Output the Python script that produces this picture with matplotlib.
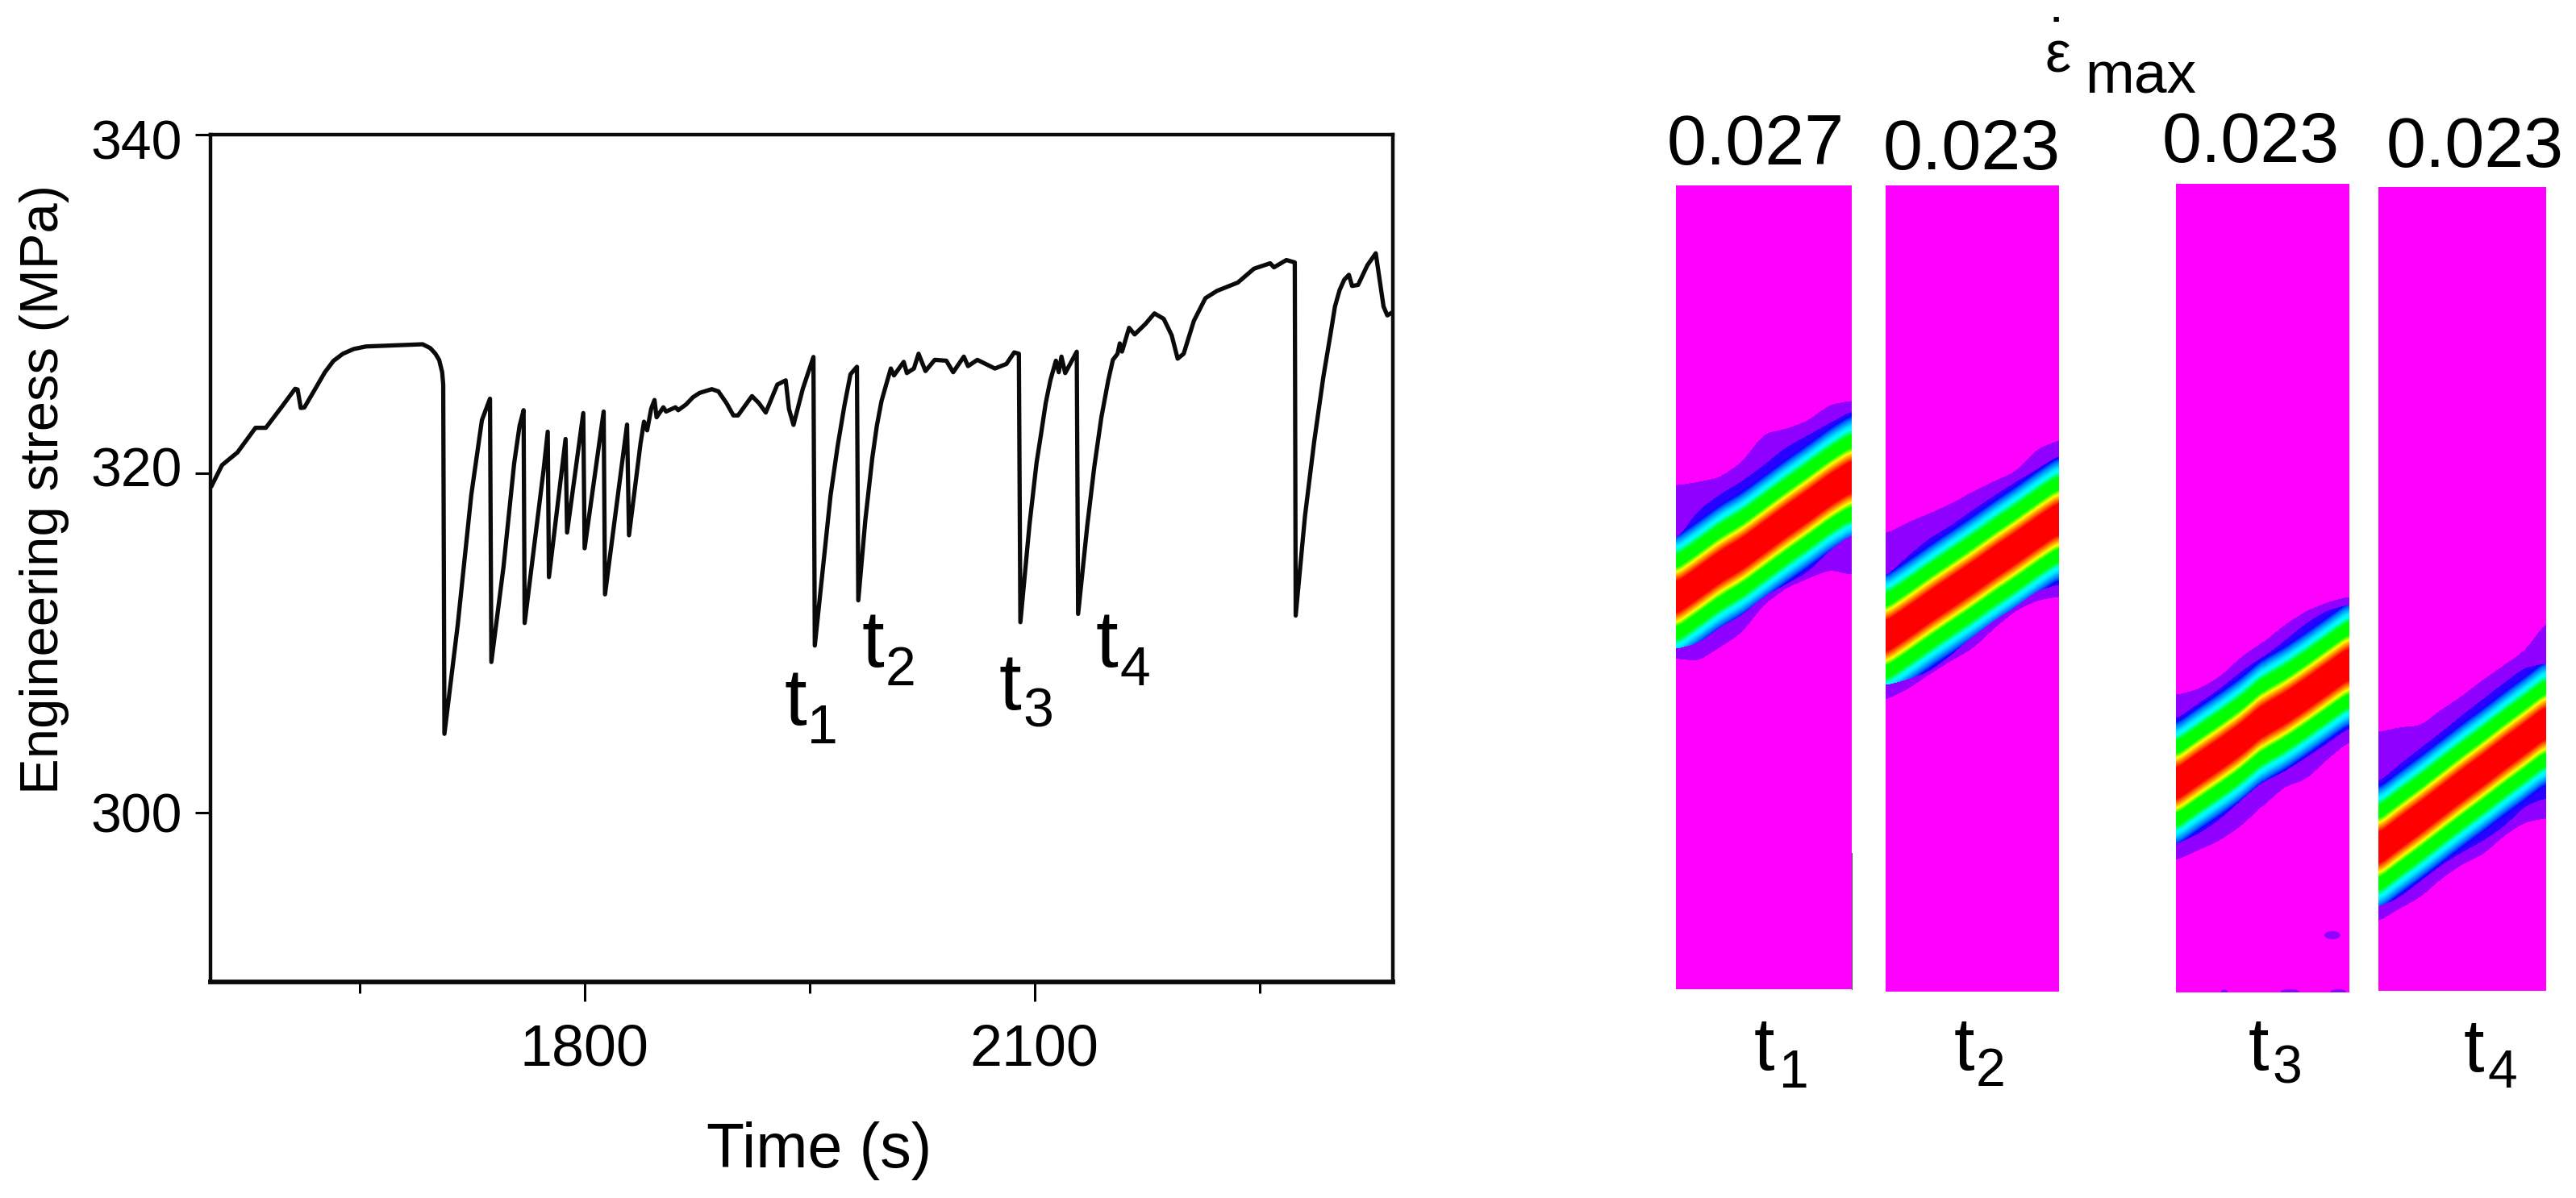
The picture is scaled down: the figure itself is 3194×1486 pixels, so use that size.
import numpy as np
import matplotlib
matplotlib.use("Agg")
import matplotlib.pyplot as plt
from matplotlib.colors import LinearSegmentedColormap
from matplotlib.patches import Ellipse
from matplotlib.transforms import ScaledTranslation

W, H, DPI = 3194, 1486, 100
plt.rcParams['font.family'] = ['Liberation Sans', 'DejaVu Sans']

# ---------- stress curve ----------
time_s = [1551.4,1558.2,1568.5,1580.5,1587.4,1597.7,1606.9,1608.6,1610.7,1613.1,1626.8,1632.5,1638.8,1646.0,1654.3,1671.4,1692.0,1697.1,1700.5,1703.0,1705.0,1705.7,
          1706.5,1715.4,1724.4,1731.5,1736.9,1737.8,1745.9,1753.0,1756.6,1759.3,1760.0,1772.7,1775.4,1776.2,1787.3,1788.3,1799.1,1800.0,
          1812.7,1813.6,1828.3,1829.6,1837.3,1839.6,1841.7,1844.4,1846.6,1848.0,1852.5,1854.3,1860.6,1862.4,1867.7,1872.2,1876.7,1884.8,1889.2,1894.6,
          1899.2,1902.3,1911.6,1916.2,1920.8,1928.5,1934.1,1936.3,1939.3,1945.5,1952.6,1953.5,1959.4,1964.0,1968.7,1973.3,1977.3,1981.6,1982.5,1987.2,1991.8,1994.9,1998.0,2001.1,2004.2,2006.3,
          2012.8,2014.9,2019.6,2022.7,2027.3,2033.5,2041.2,2045.8,2052.9,2055.7,2061.9,2073.6,2081.3,2086.5,2089.6,2090.6,2096.7,2101.4,2104.4,2107.5,2110.6,2114.3,2116.2,
          2118.0,2120.5,2128.2,2129.1,2135.3,2139.9,2144.6,2149.2,2152.3,2155.4,2156.9,2158.4,2163.1,2166.8,2173.9,2180.0,2186.2,2191.5,2195.5,2199.5,2206.3,2214.0,2221.7,
          2235.6,2246.4,2257.2,2259.7,2268.0,2273.6,2274.2,2280.4,2286.5,2292.7,2297.3,2300.4,2303.5,2306.6,2309.7,2311.8,2315.8,2322.0,2327.6,2332.8,2335.3,2338.4]
stress_mpa = [319.3,320.5,321.25,322.7,322.7,323.9,325.0,324.96,323.87,323.9,325.98,326.65,327.07,327.35,327.5,327.56,327.63,327.4,327.07,326.7,325.98,325.25,
              304.64,311.09,318.73,323.15,324.42,308.88,314.49,320.6,322.81,323.74,311.18,320.26,322.47,313.89,322.04,316.52,323.57,315.59,
              323.66,312.87,322.89,316.36,321.79,323.06,322.55,323.83,324.34,323.32,323.91,323.66,323.91,323.74,324.08,324.5,324.76,324.98,324.85,324.16,
              323.43,323.43,324.57,324.16,323.6,325.25,325.5,323.8,322.87,325.0,326.88,309.85,314.82,318.7,321.6,324.04,325.86,326.3,312.52,317.25,320.89,322.83,324.28,325.25,326.2,325.79,
              326.59,325.93,326.2,327.07,326.05,326.71,326.66,325.98,326.9,326.34,326.71,326.2,326.47,327.15,327.07,311.23,317.0,320.64,322.34,324.16,325.5,326.66,325.98,
              326.9,325.93,327.19,311.72,317.0,320.4,323.31,325.5,326.71,327.07,327.68,327.2,328.6,328.21,328.82,329.45,329.13,328.16,326.78,327.07,329.01,330.35,330.78,
              331.27,332.09,332.41,332.17,332.6,332.46,311.62,317.49,321.86,325.73,328.16,329.86,330.83,331.44,331.73,331.07,331.13,332.29,333.0,329.86,329.33,329.5]
x_major = [1800, 2100]
x_minor = [1650, 1950, 2250]
y_ticks = [300, 320, 340]
y_label_shift_px = [0, 9, -6]

# ---------- strain-rate bands: depth below panel top at 9 stations across each panel ----------
max_rates = ['0.027', '0.023', '0.023', '0.023']
p1_center = [512,493,473,457,437,417,398,378,361]
p1_blue_top = [440,403,383,367,347,325,310,295,280]
p1_blue_bot = [575,568,548,533,510,495,480,453,433]
p1_out_top = [372,368,362,343,308,302,292,272,267]
p1_out_bot = [587,590,573,555,520,500,488,477,483]
p2_center = [560,542,523,505,487,468,450,431,413]
p2_blue_top = [485,460,438,422,403,385,368,352,335]
p2_blue_bot = [620,613,603,583,560,540,523,503,495]
p2_out_top = [432,418,407,395,380,367,355,327,316]
p2_out_bot = [638,625,607,590,575,550,528,515,510]
p3_center = [745,726,708,689,666,651,633,614,595]
p3_blue_top = [664,645,627,605,587,567,545,529,522]
p3_blue_bot = [819,807,789,765,742,729,712,694,675]
p3_out_top = [634,627,612,587,569,547,530,519,512]
p3_out_bot = [839,827,815,797,772,748,739,714,692]
p4_center = [821,801,782,762,742,723,703,684,664]
p4_blue_top = [738,716,696,676,655,635,615,596,591]
p4_blue_bot = [893,881,861,841,825,811,793,768,758]
p4_out_top = [676,670,668,648,631,611,593,575,540]
p4_out_bot = [911,895,881,858,840,828,805,788,783]
p3_blob_x = [0.906, 0.28, 0.66, 0.94]
p3_blob_y = [932, 1002, 1002, 1002]
p3_blob_w = [0.093, 0.04, 0.11, 0.09]
p3_blob_h = [10, 5, 6, 6]

panels = [
    (2078, 2296, 230, 1227, p1_center, p1_blue_top, p1_blue_bot, p1_out_top, p1_out_bot),
    (2338, 2553, 230, 1230, p2_center, p2_blue_top, p2_blue_bot, p2_out_top, p2_out_bot),
    (2698, 2912, 228, 1231, p3_center, p3_blue_top, p3_blue_bot, p3_out_top, p3_out_bot),
    (2949, 3157, 232, 1229, p4_center, p4_blue_top, p4_blue_bot, p4_out_top, p4_out_bot),
]

fig = plt.figure(figsize=(W / DPI, H / DPI), dpi=DPI, facecolor='white')

def px_font(px):
    return px * 72.0 / DPI

def ptext(x, y, s, size, ha='left', va='baseline', **kw):
    return fig.text(x / W, 1 - y / H, s, fontsize=px_font(size), ha=ha, va=va, color='black', **kw)

# ---------- left chart ----------
L, R, T, B = 261, 1727, 167, 1218
ax = fig.add_axes([L / W, 1 - B / H, (R - L) / W, (B - T) / H])
ax.plot(time_s, stress_mpa, color='#0a0a0a', lw=3.8, solid_joinstyle='round')
ax.set_xlim(1550.5, 2339.0)
ax.set_ylim(290, 340)
ax.set_xticks(x_major)
ax.set_xticks(x_minor, minor=True)
ax.set_yticks(y_ticks)
ax.tick_params(axis='x', which='major', length=px_font(24), width=2.2, pad=px_font(28), labelsize=px_font(72))
ax.tick_params(axis='x', which='minor', length=px_font(14), width=2.2)
ax.tick_params(axis='y', which='major', length=px_font(19), width=2.2, pad=px_font(16), labelsize=px_font(68))
for s in ax.spines.values():
    s.set_linewidth(3.2)
    s.set_color('#0a0a0a')
ax.spines['bottom'].set_linewidth(4.2)
for lab, dy in zip(ax.get_yticklabels(), y_label_shift_px):
    lab.set_transform(lab.get_transform() + ScaledTranslation(0, dy / DPI, fig.dpi_scale_trans))

fig.text(55 / W, 1 - 607 / H, 'Engineering stress (MPa)', rotation=90, ha='center', va='center',
         fontsize=px_font(67), color='black')
ptext(1016, 1427, 'Time (s)', 77, ha='center', va='center')

def tlabel(x, base, digit, sub_base, digit_dx, size_t, size_d):
    ptext(x, base, 't', size_t)
    ptext(x + digit_dx, sub_base, digit, size_d)

tlabel(972, 899, '1', 922, 29, 100, 68)
tlabel(1069, 827, '2', 850, 29, 100, 68)
tlabel(1239, 880, '3', 901, 29, 100, 68)
tlabel(1359, 827, '4', 850, 29, 100, 68)

# ---------- right panels ----------
nodes = [(0.0, '#ff0000'), (19/85, '#ff0000'), (25/85, '#ff8000'), (31/85, '#ffff00'), (37/85, '#00ff00'),
         (52/85, '#00ff00'), (60/85, '#00ffff'), (64/85, '#00e8ff'), (72/85, '#0070ff'), (77/85, '#0000ff'),
         (0.92, '#2800ff'), (0.945, '#2800ff'), (0.945, '#9000ff'), (0.985, '#9000ff'), (0.985, '#ff00ff'), (1.0, '#ff00ff')]
cmap = LinearSegmentedColormap.from_list('band', nodes, N=2048)

def smooth(a, k):
    pad = np.pad(a, k, mode='edge')
    return np.convolve(pad, np.ones(2 * k + 1) / (2 * k + 1), mode='valid')

for i, (x0, x1, y0, y1, c, bt, bb, ot, ob) in enumerate(panels):
    pw, ph = x1 - x0, y1 - y0
    axp = fig.add_axes([x0 / W, 1 - y1 / H, pw / W, ph / H])
    xs = np.linspace(0, 1, pw)
    st = np.linspace(0, 1, len(c))
    k = 9
    cc, bts, bbs, ots, obs = [smooth(np.interp(xs, st, a), k) for a in (c, bt, bb, ot, ob)]
    yy = (np.arange(ph) + 0.5)[:, None]
    d = np.abs(yy - cc[None, :])
    field = np.minimum(d, 77) / 85.0
    field[d > 77] = 0.93
    field[(yy < bts[None, :]) | (yy > bbs[None, :])] = 0.965
    field[(yy < ots[None, :]) | (yy > obs[None, :])] = 1.0
    axp.imshow(field, cmap=cmap, vmin=0, vmax=1, aspect='auto', extent=(0, 1, ph, 0), interpolation='nearest')
    if i == 2:
        for bx, by, bw, bh in zip(p3_blob_x, p3_blob_y, p3_blob_w, p3_blob_h):
            axp.add_patch(Ellipse((bx, by), bw, bh, fc='#9000ff', ec='none'))
    axp.set_xlim(0, 1)
    axp.set_ylim(ph, 0)
    axp.axis('off')

# thin dark scratch on the first panel's right edge
fig.add_artist(plt.Line2D([2296 / W, 2296 / W], [1 - 1058 / H, 1 - 1227 / H], color='#555555', lw=0.8))

# max strain-rate values and header
ptext(2177, 204, max_rates[0], 88, ha='center')
ptext(2445, 210, max_rates[1], 88, ha='center')
ptext(2791, 201, max_rates[2], 88, ha='center')
ptext(3069, 207, max_rates[3], 88, ha='center')
ptext(2552, 89, '\u02d9\n\u03b5', 72, ha='center', linespacing=0.02, multialignment='center')
ptext(2585, 115, 'max', 73)

tlabel(2175, 1327, '1', 1349, 31, 92, 66)
tlabel(2423, 1327, '2', 1347, 27, 92, 66)
tlabel(2788, 1327, '3', 1344, 29, 92, 66)
tlabel(3055, 1329, '4', 1349, 30, 92, 66)

fig.savefig('out.png', dpi=DPI, facecolor='white')
